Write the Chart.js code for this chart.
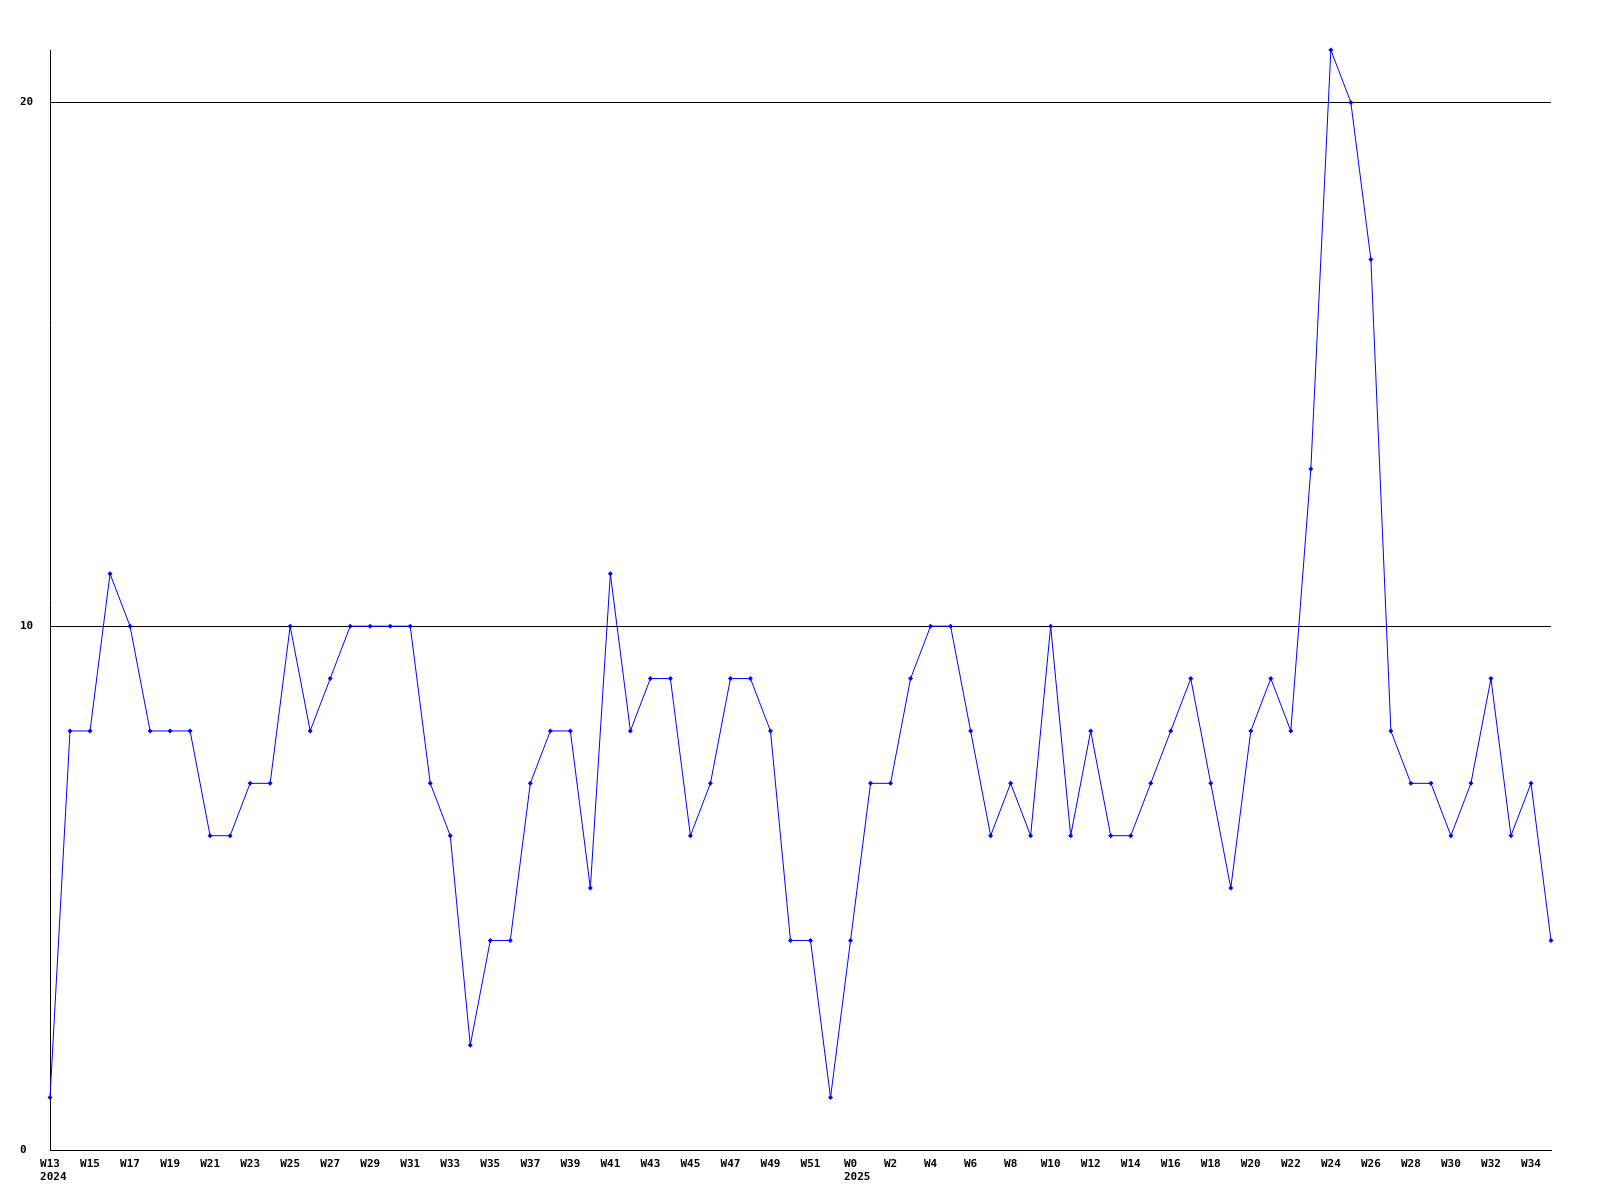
<!DOCTYPE html>
<html>
<head>
<meta charset="utf-8">
<script src="https://cdn.jsdelivr.net/npm/chart.js@4.4.1/dist/chart.umd.min.js"></script>
<style>
    html, body { margin: 0; padding: 0; background: #ffffff; }
    #div_container { width: 1600px; height: 1200px; }
</style>
</head>
<body>
<div id="div_container"><canvas id="lineChartID" width="1600" height="1200"></canvas></div>
<script>
const weeks2024 = ['W13', 'W14', 'W15', 'W16', 'W17', 'W18', 'W19', 'W20', 'W21', 'W22',
    'W23', 'W24', 'W25', 'W26', 'W27', 'W28', 'W29', 'W30', 'W31', 'W32',
    'W33', 'W34', 'W35', 'W36', 'W37', 'W38', 'W39', 'W40', 'W41', 'W42',
    'W43', 'W44', 'W45', 'W46', 'W47', 'W48', 'W49', 'W50', 'W51', 'W52'];
const weeks2025 = ['W0', 'W1', 'W2', 'W3', 'W4', 'W5', 'W6', 'W7', 'W8', 'W9',
    'W10', 'W11', 'W12', 'W13', 'W14', 'W15', 'W16', 'W17', 'W18', 'W19',
    'W20', 'W21', 'W22', 'W23', 'W24', 'W25', 'W26', 'W27', 'W28', 'W29',
    'W30', 'W31', 'W32', 'W33', 'W34', 'W35'];
const yearLabels = ['2024', '2025'];

const valores2024 = [1, 8, 8, 11, 10, 8, 8, 8, 6, 6,
    7, 7, 10, 8, 9, 10, 10, 10, 10, 7,
    6, 2, 4, 4, 7, 8, 8, 5, 11, 8,
    9, 9, 6, 7, 9, 9, 8, 4, 4, 1];
const valores2025 = [4, 7, 7, 9, 10, 10, 8, 6, 7, 6,
    10, 6, 8, 6, 6, 7, 8, 9, 7, 5,
    8, 9, 8, 13, 21, 20, 17, 8, 7, 7,
    6, 7, 9, 6, 7, 4];

const yTicks = [0, 10, 20];
const yMax = 21;

const labels = weeks2024.concat(weeks2025);
const valores = valores2024.concat(valores2025);
const yearStarts = [0, weeks2024.length];

const fonte = {
    family: "'DejaVu Sans Mono', 'Liberation Mono', monospace",
    size: 11,
    weight: 'bold',
    lineHeight: 1.35
};

// year under the first week of each year, left aligned with the week label
const yearPlugin = {
    id: 'yearLabels',
    afterDraw: function (chart) {
        const ctx = chart.ctx;
        const xScale = chart.scales.x;
        ctx.save();
        ctx.font = 'bold 11px ' + fonte.family;
        ctx.fillStyle = '#000000';
        ctx.textAlign = 'left';
        ctx.textBaseline = 'middle';
        for (let i = 0; i < yearStarts.length; i++) {
            const idx = yearStarts[i];
            const px = xScale.getPixelForValue(idx);
            const w = ctx.measureText(labels[idx]).width;
            ctx.fillText(yearLabels[i], px - w / 2, xScale.top + 27);
        }
        ctx.restore();
    }
};

const chartInstance = new Chart(document.getElementById('lineChartID'), {
    type: 'line',
    data: {
        labels: labels,
        datasets: [{
            label: 'valores',
            data: valores,
            borderColor: '#0000ff',
            backgroundColor: '#0000ff',
            borderWidth: 1,
            fill: false,
            tension: 0,
            pointStyle: 'rectRot',
            pointRadius: 2.5,
            pointBorderWidth: 0,
            pointBackgroundColor: '#0000ff'
        }]
    },
    options: {
        responsive: false,
        animation: false,
        clip: false,
        layout: {
            padding: { left: 20, top: 50, right: 49, bottom: 0 }
        },
        plugins: {
            legend: { display: false },
            tooltip: { enabled: false }
        },
        scales: {
            x: {
                offset: false,
                grid: { display: false, drawTicks: false },
                border: { display: true, color: '#000000', width: 1 },
                ticks: {
                    autoSkip: false,
                    maxRotation: 0,
                    minRotation: 0,
                    padding: 7,
                    color: '#000000',
                    font: fonte,
                    callback: function (value, index) {
                        return index % 2 === 0 ? labels[index] : '';
                    }
                },
                afterFit: function (scale) {
                    scale.height = 50;
                }
            },
            y: {
                min: 0,
                max: yMax,
                grid: { color: '#000000', lineWidth: 1, drawTicks: false },
                border: { display: true, color: '#000000', width: 1 },
                ticks: {
                    crossAlign: 'far',
                    padding: 0,
                    color: '#000000',
                    font: fonte
                },
                afterBuildTicks: function (scale) {
                    scale.ticks = yTicks.map(v => ({ value: v }));
                },
                afterFit: function (scale) {
                    scale.width = 30;
                }
            }
        }
    },
    plugins: [yearPlugin]
});
</script>
</body>
</html>
